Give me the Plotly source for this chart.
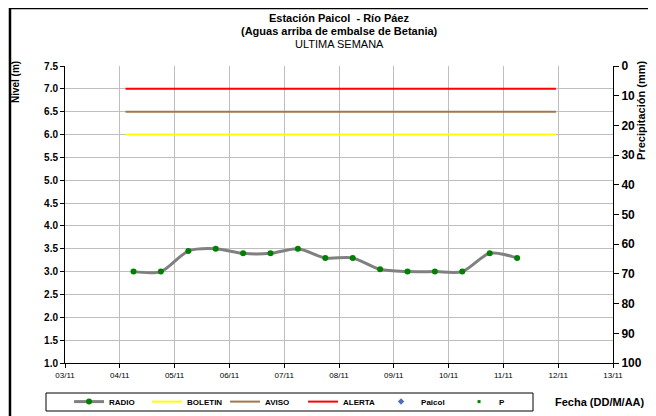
import plotly.graph_objects as go

# serie RADIO cada 12 horas
fechas_radio = ["2011-11-04 06:00", "2011-11-04 18:00", "2011-11-05 06:00", "2011-11-05 18:00",
                "2011-11-06 06:00", "2011-11-06 18:00", "2011-11-07 06:00", "2011-11-07 18:00",
                "2011-11-08 06:00", "2011-11-08 18:00", "2011-11-09 06:00", "2011-11-09 18:00",
                "2011-11-10 06:00", "2011-11-10 18:00", "2011-11-11 06:00"]
nivel_radio = [3.0, 3.0, 3.45, 3.5, 3.4, 3.4, 3.5, 3.3, 3.3, 3.05, 3.0, 3.0, 3.0, 3.4, 3.3]

# umbrales
fechas_umbral = ["2011-11-04 02:30", "2011-11-11 23:00"]
boletin = [6.0, 6.0]
aviso = [6.5, 6.5]
alerta = [7.0, 7.0]

font = "Liberation Sans, Arial, sans-serif"

fig = go.Figure()
fig.add_trace(go.Scatter(x=fechas_radio, y=nivel_radio, name="RADIO", mode="lines+markers",
                         line=dict(color="#808080", width=3, shape="spline", smoothing=0.8),
                         marker=dict(color="#008000", size=6)))
fig.add_trace(go.Scatter(x=fechas_umbral, y=boletin, name="BOLETIN", mode="lines",
                         line=dict(color="#FFFF00", width=2)))
fig.add_trace(go.Scatter(x=fechas_umbral, y=aviso, name="AVISO", mode="lines",
                         line=dict(color="#A0784B", width=2)))
fig.add_trace(go.Scatter(x=fechas_umbral, y=alerta, name="ALERTA", mode="lines",
                         line=dict(color="#FF0000", width=2)))
fig.add_trace(go.Scatter(x=[None], y=[None], name="Paicol", mode="markers",
                         marker=dict(color="#4F6FBD", symbol="diamond", size=5)))
fig.add_trace(go.Scatter(x=[None], y=[None], name="P", mode="markers", yaxis="y2",
                         marker=dict(color="#008000", symbol="square", size=3)))

# la pagina agrega 8px de margen, por eso 648x408
fig.update_layout(
    width=648, height=408,
    margin=dict(l=57, r=43, t=58, b=53, autoexpand=False),
    paper_bgcolor="white", plot_bgcolor="white",
    font=dict(family=font, color="black"),
    xaxis=dict(type="date", range=["2011-11-03", "2011-11-13"], dtick=86400000,
               tickformat="%d/%m", tickfont=dict(size=8), showgrid=True,
               gridcolor="#BEBEBE", gridwidth=1, showline=True, linecolor="black",
               linewidth=1, ticks="outside", ticklen=4, tickcolor="black", zeroline=False,
               automargin=False),
    yaxis=dict(range=[1.0, 7.5], dtick=0.5, tickformat=".1f",
               tickfont=dict(size=10, weight="bold"),
               showgrid=True, gridcolor="#BEBEBE", gridwidth=1, showline=True,
               linecolor="black", linewidth=1, ticks="outside", ticklen=4,
               tickcolor="black", zeroline=False, automargin=False),
    yaxis2=dict(range=[100, 0], dtick=10, overlaying="y", side="right",
                tickfont=dict(size=12, weight="bold"), showgrid=False, showline=True,
                linecolor="black", linewidth=1, ticks="outside", ticklen=5,
                tickcolor="black", zeroline=False, automargin=False),
    showlegend=True,
    legend=dict(orientation="h", xref="container", yref="container",
                x=0.0942, y=0.0708, xanchor="left", yanchor="top",
                bgcolor="rgba(0,0,0,0)", borderwidth=0,
                font=dict(size=8, weight="bold"), entrywidth=33, entrywidthmode="pixels",
                itemwidth=30, tracegroupgap=0),
)

# marco exterior
fig.add_shape(type="rect", xref="paper", yref="paper", x0=-0.1004, x1=1.09,
              y0=-0.2, y1=1.195, line=dict(color="black", width=2.5))
# caja de la leyenda
fig.add_shape(type="rect", xref="paper", yref="paper", x0=(46 - 65) / 548, x1=(533 - 65) / 548,
              y0=(363 - 411) / 297, y1=(363 - 393) / 297, line=dict(color="black", width=1),
              fillcolor="white", layer="below")

anot = [
    dict(text="<b>Estación Paicol  - Río Páez</b>", x=0.5, y=1.1616, size=11, angle=0),
    dict(text="<b>(Aguas arriba de embalse de Betania)</b>", x=0.5, y=1.1178, size=11, angle=0),
    dict(text="ULTIMA SEMANA", x=0.5, y=1.074, size=11, angle=0),
    dict(text="<b>Nivel (m)</b>", x=-0.0912, y=0.946, size=10, angle=-90),
    dict(text="<b>Precipitación (mm)</b>", x=1.051, y=0.852, size=11, angle=-90),
    dict(text="<b>Fecha (DD/M/AA)</b>", x=0.976, y=-0.131, size=11, angle=0),
]
for a in anot:
    fig.add_annotation(text=a["text"], x=a["x"], y=a["y"], xref="paper", yref="paper",
                       showarrow=False, font=dict(size=a["size"]), xanchor="center",
                       yanchor="middle", textangle=a["angle"])

fig.add_annotation(text="<b>Río Páez</b>", x=-0.115, y=1.187, xref="paper", yref="paper",
                   showarrow=False, xanchor="left", yanchor="bottom", font=dict(size=19))

fig.write_html("out.html")
